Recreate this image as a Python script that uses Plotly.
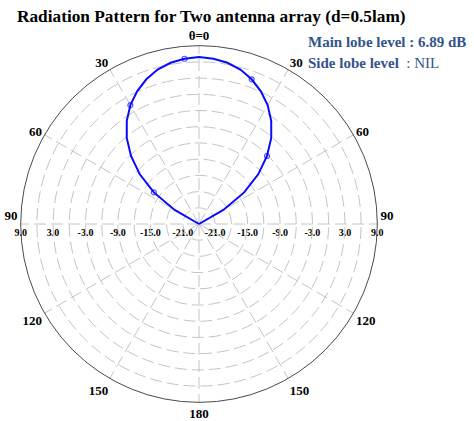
import plotly.graph_objects as go

# ---- data ----
theta_deg = [-90, -85, -80, -75, -70, -65, -60, -55, -50, -45, -40, -35, -30, -25, -20, -15, -10, -5,
             0, 5, 10, 15, 20, 25, 30, 35, 40, 45, 50, 55, 60, 65, 70, 75, 80, 85, 90]
gain_db = [-24.0, -24.0, -24.0, -24.0, -24.0, -24.0, -18.8, -13.8, -9.7, -6.2, -3.2, -0.7, 1.4, 3.1, 4.5, 5.6, 6.3, 6.7,
           6.89, 6.7, 6.3, 5.6, 4.5, 3.1, 1.4, -0.7, -3.2, -6.2, -9.7, -13.8, -18.8, -24.0, -24.0, -24.0, -24.0, -24.0, -24.0]
marker_angles = [-55, -30, -5, 20, 45]

angular_tickvals = [0, 30, 60, 90, 120, 150, 180, 210, 240, 270, 300, 330]
angular_ticktext = ["θ=0", "30", "60", "90<br>\u00a0", "120", "150", "180", "150", "120", "90<br>\u00a0", "60", "30"]

r_min, r_max = -24, 9
grid_vals = [-21, -18, -15, -12, -9, -6, -3, 0, 3, 6, 9]
label_vals = [-21, -15, -9, -3, 3, 9]
label_text = ["-21.0", "-15.0", "-9.0", "-3.0", "3.0", "9.0"]

title_text = "Radiation Pattern for Two antenna array (d=0.5lam)"
main_lobe = "6.89 dB"
side_lobe = "NIL"

# ---- styles ----
serif = "Liberation Serif"
grid_col = "#c4c4c4"
dash = "12px,5px"
line_blue = "#0a0aff"
txt_blue = "#33548a"

marker_sizes = [5 if a in marker_angles else 0 for a in theta_deg]

# radial labels on both sides of the horizontal diameter, via a cartesian axis
span = r_max - r_min
diam_vals = [-(v - r_min) for v in label_vals] + [(v - r_min) for v in label_vals]
diam_text = label_text + label_text

fig = go.Figure()
fig.add_trace(go.Scatterpolar(
    r=gain_db, theta=theta_deg, mode="lines+markers",
    line=dict(color=line_blue, width=2),
    marker=dict(symbol="circle-open", size=marker_sizes, color=line_blue, line=dict(width=1.2, color=line_blue)),
    subplot="polar", showlegend=False, hoverinfo="skip"))
fig.add_trace(go.Scatter(x=[], y=[], xaxis="x", yaxis="y", showlegend=False))

W, H = 474, 421
cx, cy, R = 199, 224, 178.3
dom_x = [(cx - R) / W, (cx + R) / W]
dom_y = [(H - cy - R) / H, (H - cy + R) / H]

radial_grid_text = [""] * len(grid_vals)

fig.update_layout(
    width=W, height=H,
    margin=dict(l=0, r=0, t=0, b=0, autoexpand=False),
    paper_bgcolor="white",
    plot_bgcolor="rgba(0,0,0,0)",
    xaxis=dict(
        domain=dom_x, range=[-span, span], anchor="free", position=(H - cy) / H,
        tickmode="array", tickvals=diam_vals, ticktext=diam_text,
        showgrid=False, zeroline=False, showline=False, ticks="",
        tickfont=dict(family=serif, size=10, color="black", weight="bold"),
        ticklabelstandoff=1,
        automargin=False, fixedrange=True,
    ),
    yaxis=dict(domain=[0, 1], range=[0, 1], visible=False, fixedrange=True, automargin=False),
    polar=dict(
        domain=dict(x=dom_x, y=dom_y),
        bgcolor="rgba(0,0,0,0)",
        angularaxis=dict(
            rotation=90, direction="clockwise",
            tickmode="array", tickvals=angular_tickvals, ticktext=angular_ticktext,
            tickfont=dict(family=serif, size=13, color="black", weight="bold"),
            showgrid=True, gridcolor=grid_col, griddash=dash, gridwidth=1,
            showline=True, linecolor="#4a4a4a", linewidth=1,
            ticks="",
        ),
        radialaxis=dict(
            range=[r_min, r_max], tickmode="array", tickvals=grid_vals, ticktext=radial_grid_text,
            showgrid=True, gridcolor=grid_col, griddash=dash, gridwidth=1,
            showline=False, ticks="", showticklabels=False, angle=180,
        ),
    ),
    annotations=[
        dict(text="<b>" + title_text + "</b>", x=15 / W, y=1 - 16 / H, xref="paper", yref="paper",
             xanchor="left", yanchor="middle", showarrow=False,
             font=dict(family=serif, size=17.3, color="black")),
        dict(text="<b>Main lobe level : " + main_lobe + "</b>", x=306 / W, y=1 - 42 / H, xref="paper", yref="paper",
             xanchor="left", yanchor="middle", showarrow=False,
             font=dict(family=serif, size=15, color=txt_blue)),
        dict(text="<b>Side lobe level </b> : " + side_lobe, x=306 / W, y=1 - 63 / H, xref="paper", yref="paper",
             xanchor="left", yanchor="middle", showarrow=False,
             font=dict(family=serif, size=15, color=txt_blue)),
    ],
)

fig.write_html("out.html")
